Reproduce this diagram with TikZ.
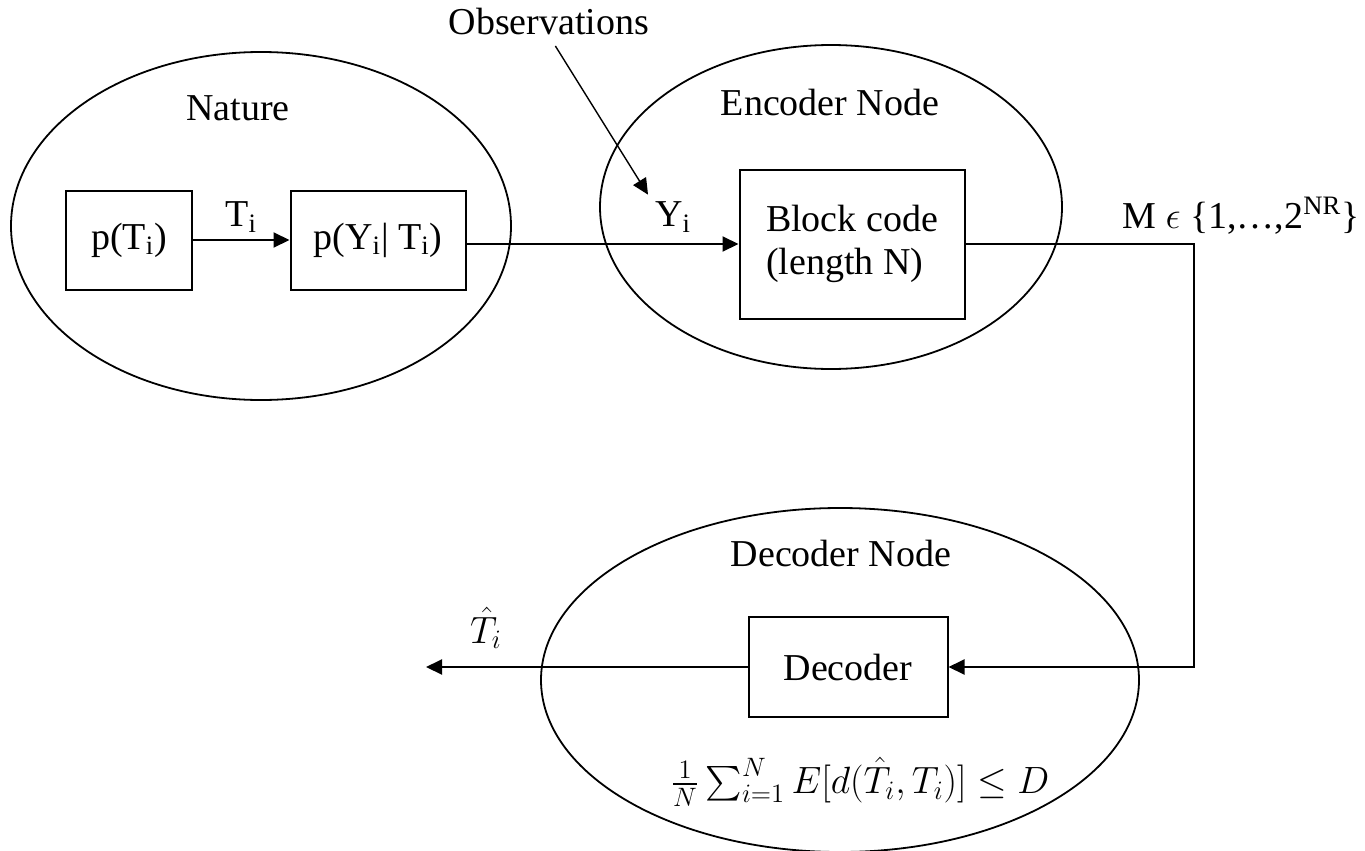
\RequirePackage{fix-cm}
\documentclass[tikz,border=0pt]{standalone}
\usepackage{exscale}
\usepackage[no-math]{fontspec}
\setmainfont{Liberation Serif}
\usetikzlibrary{arrows.meta, positioning, shapes.geometric, calc}

\begin{document}
\begin{tikzpicture}[
  x=0.5pt, y=-0.5pt,
  every node/.style={font=\fontsize{19pt}{21.5pt}\selectfont},
  region/.style={ellipse, draw, line width=0.9pt, inner sep=0pt},
  bnode/.style={rectangle, draw, line width=1pt, inner sep=0pt, align=center},
  lbl/.style={inner sep=0pt},
  arrow/.style={-{Triangle[length=8pt, width=7.5pt]}, line width=1pt},
]
\useasboundingbox (0,0) rectangle (1365,851);

% ---- regions ----
\node[region, minimum width=250pt, minimum height=174pt] (nature) at (261,226) {};
\node[region, minimum width=231pt, minimum height=162pt] (encoder) at (831,207) {};
\node[region, minimum width=299pt, minimum height=172pt] (decnode) at (840,680) {};

\node[lbl] (naturelbl) at (238,108) {Nature};
\node[lbl] (enclbl) at (830,103) {Encoder Node};
\node[lbl] (declbl) at (841,553) {Decoder Node};

% ---- blocks ----
\node[bnode, minimum width=63pt, minimum height=49.5pt] (pt) at (129,240) {p(T\textsubscript{i})};
\node[bnode, minimum width=87.5pt, minimum height=49.5pt] (pyt) at (378,240) {p(Y\textsubscript{i}| T\textsubscript{i})};
\node[bnode, minimum width=112.5pt, minimum height=74.5pt, align=left] (block) at (852,244) {Block code\\(length N)};
\node[bnode, minimum width=99.5pt, minimum height=50pt] (dec) at (848,667) {Decoder};

% ---- labels ----
\node[lbl] (obs) at (549,22) {Observations};
\node (yi) at (673,217) {Y\textsubscript{i}};
\node[lbl, anchor=base east] (mlbl) at (1360,228) {M \(\epsilon\) \{1,…,2\textsuperscript{NR}\}};
\node[lbl] (that) at (486,628) {$\hat{T}_i$};
\node[lbl] (dist) at (860,782) {$\frac{1}{N}\sum_{i=1}^{N} E[d(\hat{T}_i,T_i)] \leq D$};

\coordinate (corner) at (1194,244);
\coordinate (out) at (426,667);

% ---- connectors ----
\draw[arrow] (pt) -- node[above] {T\textsubscript{i}} (pyt);
\draw[arrow] (pyt.east |- block.west) -- (block.west);
\draw[arrow, line width=0.7pt, shorten <=6pt] (obs.south) -- (yi.north west);
\draw[arrow] (block.east) -- (corner) |- (dec.east);
\draw[arrow] (dec.west) -- (out);

\end{tikzpicture}
\end{document}
